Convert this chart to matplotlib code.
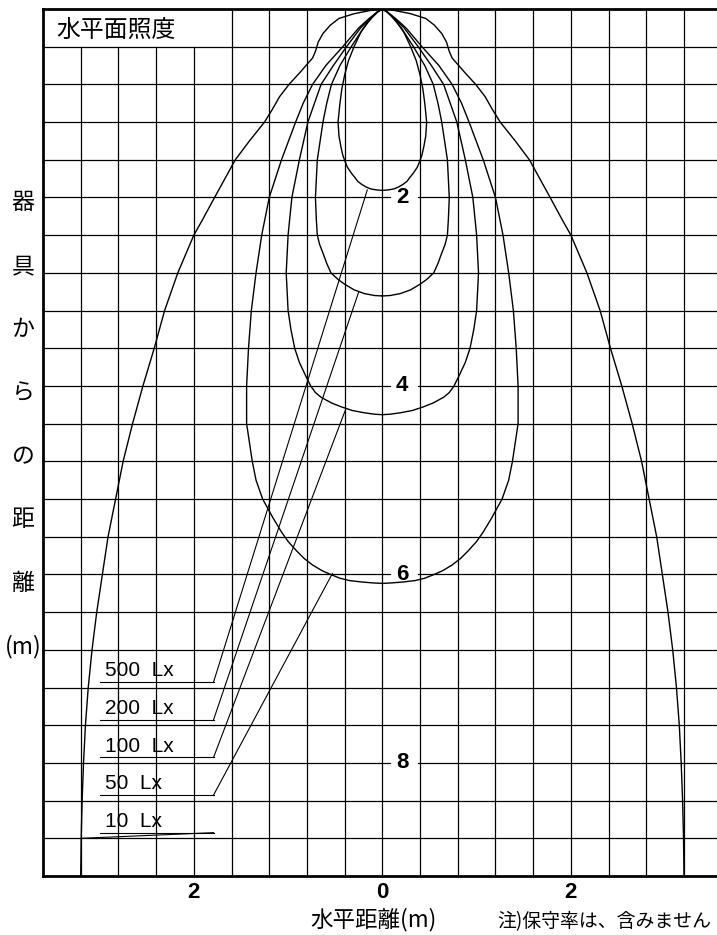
import numpy as np
import matplotlib
matplotlib.use("Agg")
import matplotlib.pyplot as plt
from matplotlib.transforms import blended_transform_factory

# ---------------- data ----------------
# isolux contours: depth below the luminaire (m) and half-width (m)
depth_500 = [0.0, 0.03, 0.08, 0.15, 0.25, 0.4, 0.55, 0.7, 0.85, 1.0, 1.2, 1.35, 1.46,
             1.55, 1.62, 1.68, 1.74, 1.79, 1.83, 1.86, 1.89, 1.91, 1.92, 1.925]
half_500 = [0.0, 0.05, 0.10, 0.16, 0.23, 0.30, 0.36, 0.40, 0.43, 0.45, 0.47, 0.46, 0.44,
            0.42, 0.395, 0.37, 0.33, 0.29, 0.26, 0.22, 0.17, 0.12, 0.06, 0.0]

depth_200 = [0.0, 0.03, 0.1, 0.2, 0.4, 0.6, 0.8, 1.0, 1.2, 1.6, 2.0, 2.24, 2.4, 2.5,
             2.59, 2.7, 2.8, 2.87, 2.92, 2.98, 3.02, 3.04, 3.045]
half_200 = [0.0, 0.05, 0.12, 0.20, 0.33, 0.45, 0.54, 0.59, 0.63, 0.69, 0.71, 0.70, 0.69, 0.665,
            0.63, 0.59, 0.545, 0.47, 0.40, 0.30, 0.19, 0.085, 0.0]

depth_100 = [0.0, 0.03, 0.1, 0.2, 0.4, 0.6, 0.8, 1.0, 1.2, 1.6, 2.0, 2.4, 2.8, 3.2, 3.4,
             3.6, 3.75, 3.9, 4.0, 4.07, 4.12, 4.18, 4.22, 4.26, 4.285, 4.30, 4.305]
half_100 = [0.0, 0.05, 0.13, 0.23, 0.38, 0.52, 0.65, 0.72, 0.79, 0.88, 0.96, 1.0, 1.02, 1.0, 0.97,
            0.93, 0.88, 0.81, 0.76, 0.71, 0.65, 0.54, 0.44, 0.32, 0.19, 0.08, 0.0]

depth_50 = [0.0, 0.03, 0.1, 0.2, 0.4, 0.6, 0.8, 1.0, 1.2, 1.6, 2.0, 2.4, 2.8, 3.2, 3.6, 4.0,
            4.4, 4.8, 5.0, 5.2, 5.4, 5.55, 5.65, 5.75, 5.83, 5.9, 5.96, 6.0, 6.04, 6.065,
            6.08, 6.09, 6.095]
half_50 = [0.0, 0.05, 0.14, 0.25, 0.42, 0.60, 0.74, 0.84, 0.92, 1.07, 1.20, 1.28, 1.34, 1.39, 1.42, 1.44,
           1.44, 1.38, 1.34, 1.27, 1.16, 1.07, 1.0, 0.91, 0.83, 0.74, 0.64, 0.55, 0.45, 0.35,
           0.22, 0.10, 0.0]

depth_10 = [0.0, 0.01, 0.05, 0.1, 0.17, 0.26, 0.35, 0.45, 0.52, 0.6, 0.68, 0.8, 0.93, 1.07,
            1.2, 1.4, 1.6, 1.8, 2.0, 2.24, 2.4, 2.8, 3.2, 3.6, 4.0, 4.4, 4.8, 5.2, 5.6, 6.0,
            6.4, 6.8, 7.2, 7.6, 8.0, 8.4, 8.8, 9.2]
half_10 = [0.0, 0.10, 0.30, 0.46, 0.55, 0.63, 0.68, 0.71, 0.74, 0.81, 0.88, 0.99, 1.09, 1.17,
           1.25, 1.41, 1.56, 1.67, 1.78, 1.91, 2.0, 2.17, 2.31, 2.42, 2.54, 2.65, 2.75, 2.83, 2.91, 2.97,
           3.03, 3.08, 3.12, 3.15, 3.17, 3.185, 3.195, 3.20]

contours = [(depth_500, half_500), (depth_200, half_200),
            (depth_100, half_100), (depth_50, half_50),
            (depth_10, half_10)]

# legend labels, underline depth and the point on the contour their leader reaches
label_texts = ["500  Lx", "200  Lx", "100  Lx", "50  Lx", "10  Lx"]
label_depth = [7.14, 7.54, 7.94, 8.34, 8.74]
leader_x = [-0.16, -0.25, -0.39, -0.53, -3.195]
leader_y = [1.92, 3.0, 4.25, 5.99, 8.80]

y_tick_values = [2, 4, 6, 8]
x_tick_values = [-2, 0, 2]
x_tick_labels = ["2", "0", "2"]

title_text = "水平面照度"
ylabel_chars = ["器", "具", "か", "ら", "の", "距", "離", "(m)"]
xlabel_text = "水平距離(m)"
note_text = "注)保守率は、含みません"

# ---------------- figure ----------------
JP = ["Noto Sans CJK JP", "DejaVu Sans"]
NUM = ["Liberation Sans", "DejaVu Sans"]

W, H = 717, 935
fig = plt.figure(figsize=(W / 100, H / 100), dpi=100)
ax = fig.add_axes([43 / W, 59 / H, 674 / W, 867 / H])
ax.set_xlim(-3.6, 3.55)
ax.set_ylim(9.2, 0)

# grid (0.4 m)
gx = np.round(np.arange(-3.2, 3.55, 0.4), 2)
gy = np.round(np.arange(0.4, 9.2, 0.4), 2)
for x in gx:
    top = 0.4 if x < -1.61 else 0.0
    ax.plot([x, x], [top, 9.2], color="black", lw=0.9, zorder=1)
for y in gy:
    if any(abs(y - v) < 1e-6 for v in y_tick_values):
        ax.plot([-3.6, 0.085], [y, y], color="black", lw=0.9, zorder=1)
        ax.plot([0.38, 3.55], [y, y], color="black", lw=0.9, zorder=1)
    else:
        ax.plot([-3.6, 3.55], [y, y], color="black", lw=0.9, zorder=1)

# contours
for depth, half in contours:
    d = np.asarray(depth)
    h = np.asarray(half)
    xs = np.concatenate([-h[::-1], h])
    ys = np.concatenate([d[::-1], d])
    ax.plot(xs, ys, color="black", lw=1.0, zorder=3)

# legend labels with leaders
for txt, yu, lx, ly in zip(label_texts, label_depth, leader_x, leader_y):
    ax.plot([-3.0, -1.79], [yu, yu], color="black", lw=0.8, zorder=3)
    ax.plot([-1.79, lx], [yu, ly], color="black", lw=0.8, zorder=3)
    ax.text(-2.94, yu - 0.06, txt, ha="left", va="baseline", fontsize=15,
            family=NUM, zorder=4)

# depth values along the centre line
for v in y_tick_values:
    ax.text(0.21, v, str(v), ha="center", va="center", fontsize=16,
            fontweight="bold", family=NUM, zorder=4)

# title in the top-left cell
ax.text(-3.46, 0.23, title_text, ha="left", va="center", fontsize=17.2,
        family=JP, zorder=4)

# spines / ticks
for s in ["left", "top", "bottom"]:
    ax.spines[s].set_linewidth(2.0)
ax.spines["right"].set_visible(False)
ax.set_xticks([])
ax.set_yticks([])

# horizontal distance labels under the axis
tr = blended_transform_factory(ax.transData, fig.transFigure)
for xv, lab in zip(x_tick_values, x_tick_labels):
    ax.text(xv, 1 - 893 / H, lab, transform=tr, ha="center", va="center",
            fontsize=16, fontweight="bold", family=NUM, clip_on=False)

# vertical y label
y0, step = 203, 63.4
for i, ch in enumerate(ylabel_chars):
    fig.text(23 / W, 1 - (y0 + i * step) / H, ch, ha="center", va="center",
             fontsize=16.5, family=JP)

fig.text(373.5 / W, 1 - 920 / H, xlabel_text, ha="center", va="center",
         fontsize=16.2, family=JP)
fig.text(497 / W, 1 - 922 / H, note_text, ha="left", va="center",
         fontsize=13.6, family=JP)

fig.savefig("out.png", dpi=100, facecolor="white")
